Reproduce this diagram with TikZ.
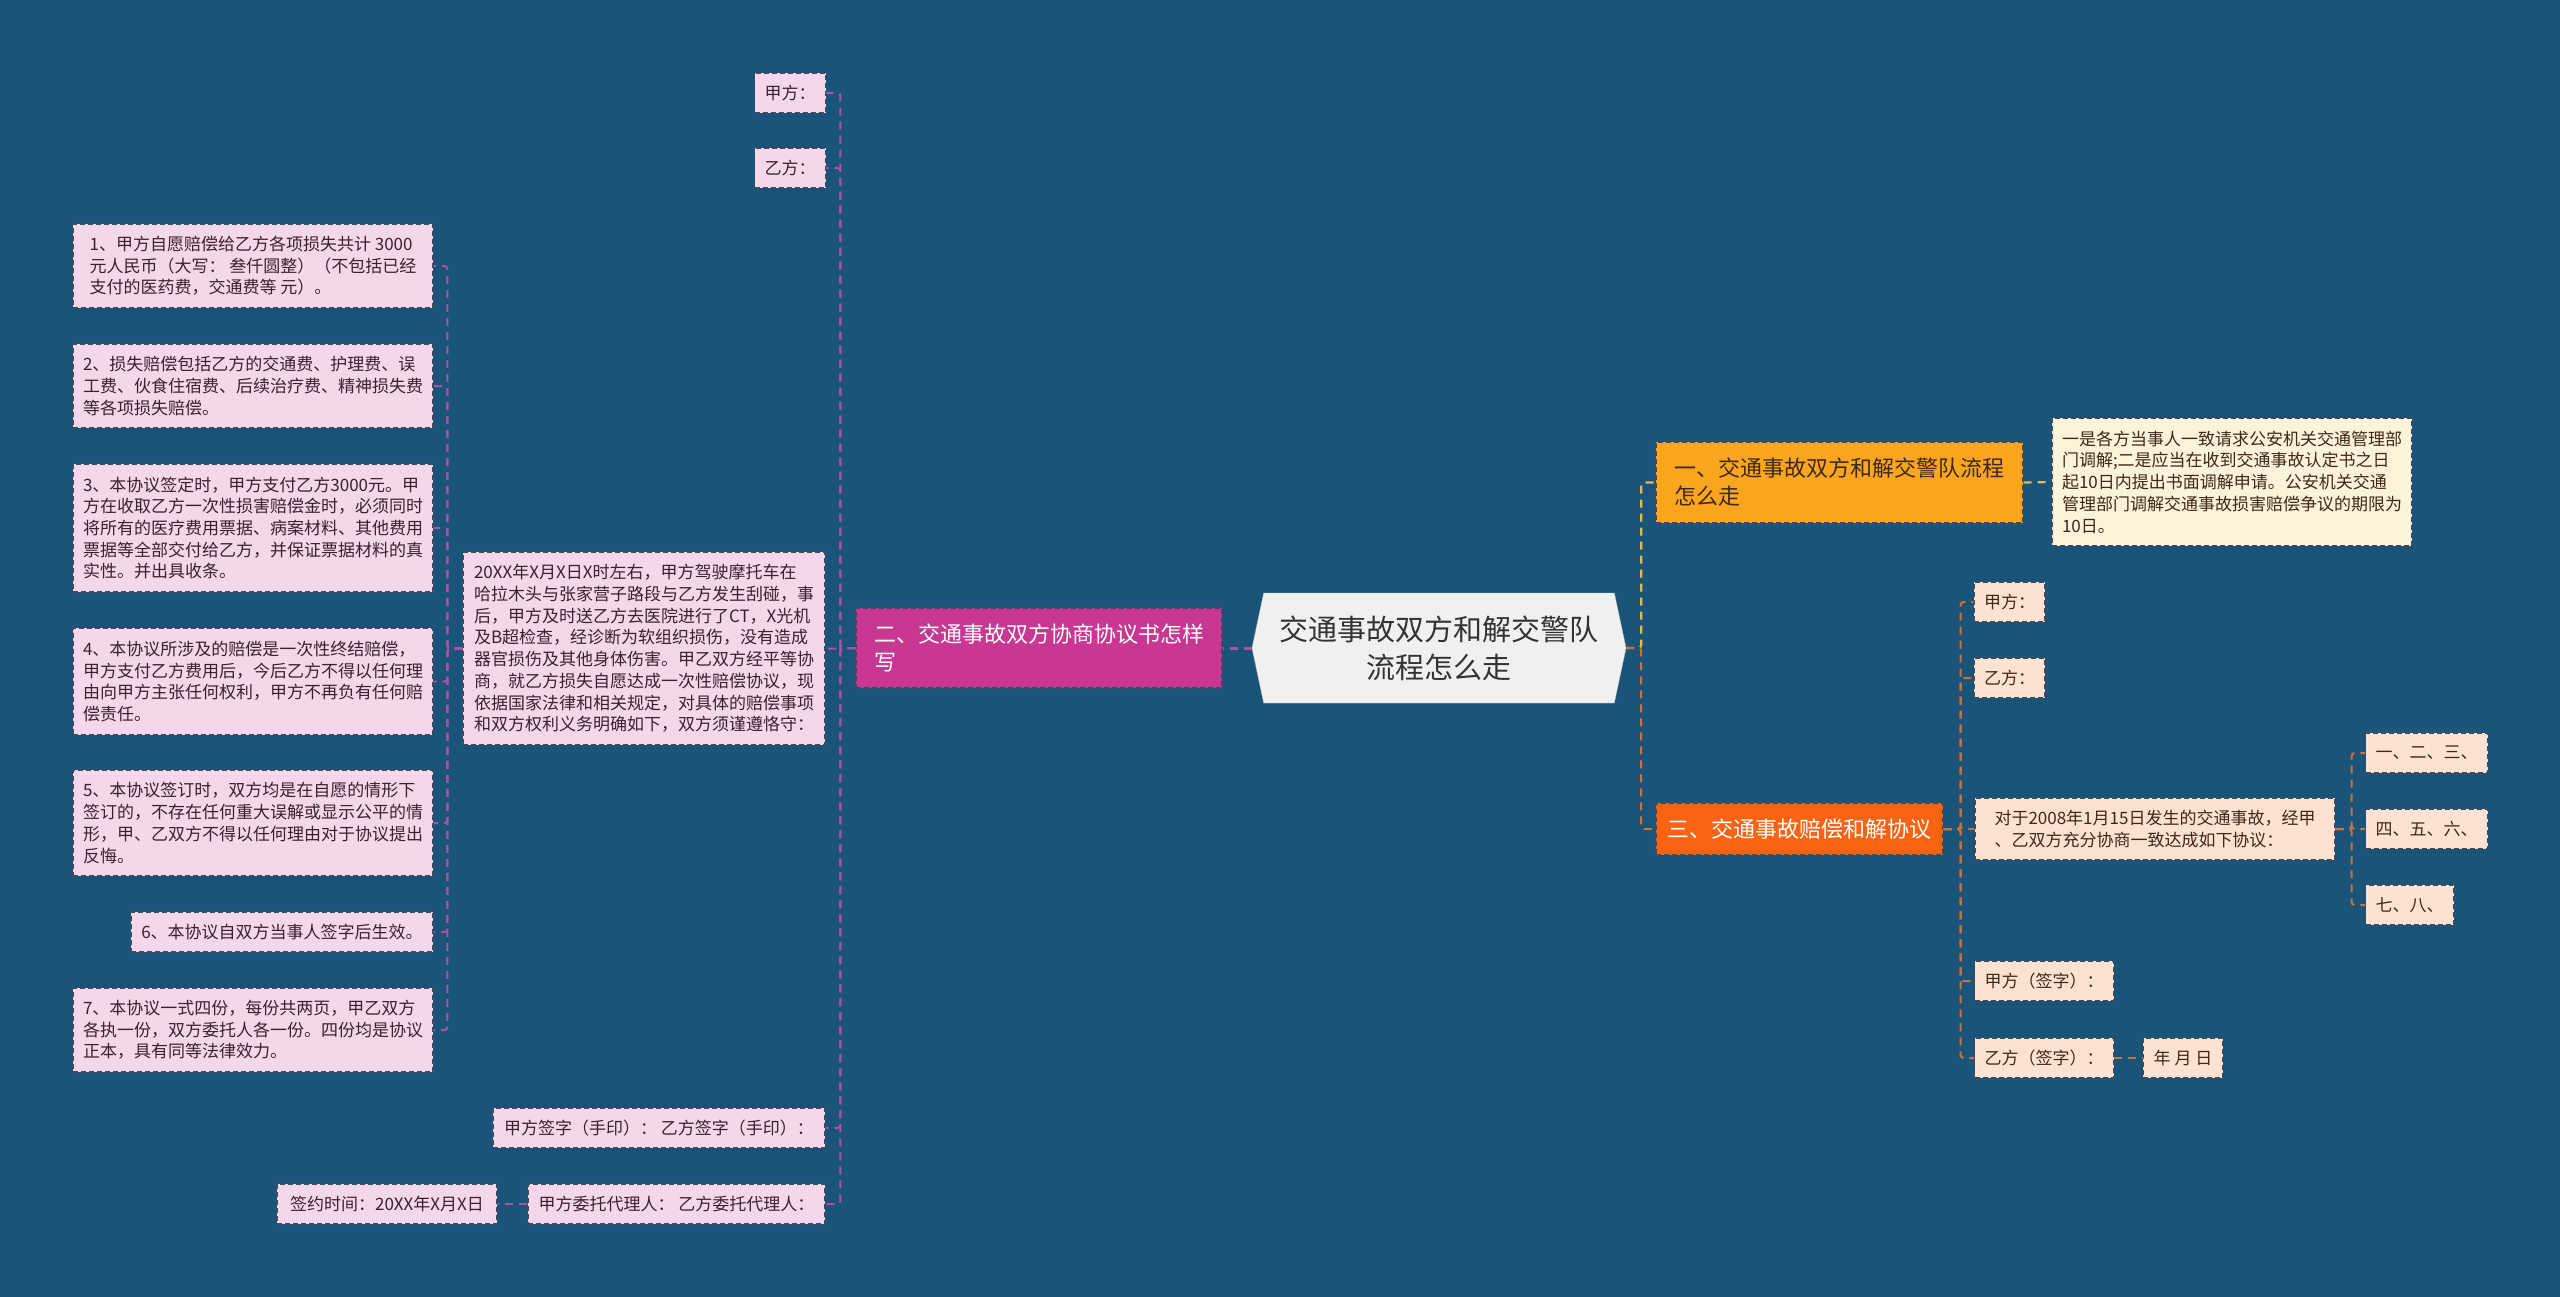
\documentclass[tikz,border=0pt]{standalone}
\usepackage{fontspec}
\setmainfont{Noto Sans CJK SC}
\usetikzlibrary{shapes.symbols}

\definecolor{bgblue}{RGB}{27,84,121}
\definecolor{pinkfill}{RGB}{245,215,235}
\definecolor{peachfill}{RGB}{253,226,210}
\definecolor{creamfill}{RGB}{253,242,218}
\definecolor{rootfill}{RGB}{240,240,240}
\definecolor{magbranch}{RGB}{200,55,145}
\definecolor{orbranch}{RGB}{250,165,30}
\definecolor{redbranch}{RGB}{248,100,20}
\definecolor{edgegrey}{RGB}{60,75,98}
\definecolor{inkleaf}{RGB}{60,32,45}
\definecolor{inkpeach}{RGB}{62,40,28}
\definecolor{lline}{RGB}{172,82,160}
\definecolor{yline}{RGB}{226,186,84}
\definecolor{oline}{RGB}{204,112,62}

\newcommand{\leaffont}{\fontsize{17}{21.7}\selectfont}
\newcommand{\branchfont}{\fontsize{22}{28}\selectfont}
\newcommand{\rootfont}{\fontsize{29}{38}\selectfont}

\begin{document}
\begin{tikzpicture}[x=1pt, y=-1pt,
    box/.style={draw=edgegrey, dash pattern=on 5pt off 3pt, line width=1.2pt, inner xsep=10pt, inner ysep=3pt, align=left},
    leafL/.style={box, fill=pinkfill, text=inkleaf, font=\leaffont},
    leafR/.style={box, fill=peachfill, text=inkpeach, font=\leaffont},
    noteR/.style={box, fill=creamfill, text=inkpeach, font=\leaffont},
    branchM/.style={box, fill=magbranch, text=white, font=\branchfont},
    branchO/.style={box, fill=orbranch, text=inkpeach, font=\branchfont},
    branchR/.style={box, fill=redbranch, text=white, font=\branchfont},
    rootbox/.style={signal, signal to=west and east, signal pointer angle=156, fill=rootfill, draw=rootfill!80!black, text=black!80, font=\rootfont, align=center, inner sep=4pt},
    lconn/.style={draw=lline, dash pattern=on 8pt off 6pt, line width=2pt, rounded corners=3pt},
    yconn/.style={draw=yline, dash pattern=on 8pt off 6pt, line width=2.2pt, rounded corners=3pt},
    oconn/.style={draw=oline, dash pattern=on 8pt off 6pt, line width=2pt, rounded corners=3pt}]

    % ==== BACKGROUND ====
    \fill[bgblue] (0,0) rectangle (2560,1297);

    % ==== ROOT ====
    \node[rootbox, minimum width=374, minimum height=110] (root) at (1439,648) {交通事故双方和解交警队\\流程怎么走};

    % ==== LEFT BRANCH ====
    \node[branchM, minimum width=366, minimum height=80] (b2) at (1039,648) {二、交通事故双方协商协议书怎样\\写};

    \node[leafL, minimum width=70, minimum height=40] (ja) at (790,93) {甲方：};
    \node[leafL, minimum width=70, minimum height=40] (yi) at (790,168) {乙方：};
    \node[leafL, minimum width=362, minimum height=193] (acc) at (644,648.5) {20XX年X月X日X时左右，甲方驾驶摩托车在\\哈拉木头与张家营子路段与乙方发生刮碰，事\\后，甲方及时送乙方去医院进行了CT，X光机\\及B超检查，经诊断为软组织损伤，没有造成\\器官损伤及其他身体伤害。甲乙双方经平等协\\商，就乙方损失自愿达成一次性赔偿协议，现\\依据国家法律和相关规定，对具体的赔偿事项\\和双方权利义务明确如下，双方须谨遵恪守：};
    \node[leafL, minimum width=332, minimum height=40] (sig) at (659,1128) {甲方签字（手印）：~乙方签字（手印）：};
    \node[leafL, minimum width=297, minimum height=40] (agent) at (676.5,1204) {甲方委托代理人：~乙方委托代理人：};
    \node[leafL, minimum width=220, minimum height=40] (date) at (387,1204) {签约时间：20XX年X月X日};

    % ---- agreement items ----
    \node[leafL, minimum width=360, minimum height=84] (t1) at (253,266) {1、甲方自愿赔偿给乙方各项损失共计~3000\\元人民币（大写：~叁仟圆整）（不包括已经\\支付的医药费，交通费等~元）。};
    \node[leafL, minimum width=360, minimum height=84] (t2) at (253,386) {2、损失赔偿包括乙方的交通费、护理费、误\\工费、伙食住宿费、后续治疗费、精神损失费\\等各项损失赔偿。};
    \node[leafL, minimum width=360, minimum height=128] (t3) at (253,528) {3、本协议签定时，甲方支付乙方3000元。甲\\方在收取乙方一次性损害赔偿金时，必须同时\\将所有的医疗费用票据、病案材料、其他费用\\票据等全部交付给乙方，并保证票据材料的真\\实性。并出具收条。};
    \node[leafL, minimum width=360, minimum height=107] (t4) at (253,681.5) {4、本协议所涉及的赔偿是一次性终结赔偿，\\甲方支付乙方费用后，今后乙方不得以任何理\\由向甲方主张任何权利，甲方不再负有任何赔\\偿责任。};
    \node[leafL, minimum width=360, minimum height=106] (t5) at (253,823) {5、本协议签订时，双方均是在自愿的情形下\\签订的，不存在任何重大误解或显示公平的情\\形，甲、乙双方不得以任何理由对于协议提出\\反悔。};
    \node[leafL, minimum width=302, minimum height=40] (t6) at (282,932) {6、本协议自双方当事人签字后生效。};
    \node[leafL, minimum width=360, minimum height=84] (t7) at (253,1030) {7、本协议一式四份，每份共两页，甲乙双方\\各执一份，双方委托人各一份。四份均是协议\\正本，具有同等法律效力。};

    % ==== RIGHT BRANCHES ====
    \node[branchO, minimum width=367, minimum height=81] (b1) at (1839.5,482.5) {一、交通事故双方和解交警队流程\\怎么走};
    \node[noteR, minimum width=359, minimum height=128] (note) at (2232,482) {一是各方当事人一致请求公安机关交通管理部\\门调解;二是应当在收到交通事故认定书之日\\起10日内提出书面调解申请。公安机关交通\\管理部门调解交通事故损害赔偿争议的期限为\\10日。};

    \node[branchR, minimum width=287, minimum height=52] (b3) at (1799.5,829) {三、交通事故赔偿和解协议};
    \node[leafR, minimum width=69, minimum height=40] (rja) at (2009.5,602) {甲方：};
    \node[leafR, minimum width=69, minimum height=40] (ryi) at (2009.5,678) {乙方：};
    \node[leafR, minimum width=360, minimum height=62] (agr) at (2155,829) {对于2008年1月15日发生的交通事故，经甲\\、乙双方充分协商一致达成如下协议：};
    \node[leafR, minimum width=138, minimum height=40] (rsa) at (2044,981) {甲方（签字）：};
    \node[leafR, minimum width=138, minimum height=40] (rsb) at (2044,1058) {乙方（签字）：};
    \node[leafR, minimum width=80, minimum height=40] (ymd) at (2183,1058) {年~月~日};
    \node[leafR, minimum width=121, minimum height=40] (p1) at (2426.5,753) {一、二、三、};
    \node[leafR, minimum width=121, minimum height=40] (p2) at (2426.5,829) {四、五、六、};
    \node[leafR, minimum width=87, minimum height=40] (p3) at (2409.5,905) {七、八、};

    % ==== CONNECTORS ====
    \draw[lconn, line width=3pt] (root.west) -- (b2.east);
    \foreach \n in {ja,yi,acc,sig,agent}
        \draw[lconn] (b2.west) -- ++(-15,0) |- (\n.east);
    \draw[lconn] (agent.west) -- (date.east);
    \foreach \n in {t1,t2,t3,t4,t5,t6,t7}
        \draw[lconn] (acc.west) -- ++(-15,0) |- (\n.east);

    \draw[yconn] (root.east) -- ++(15,0) |- (b1.west);
    \draw[oconn] (root.east) -- ++(15,0) |- (b3.west);
    \draw[yconn] (b1.east) -- (note.west);
    \foreach \n in {rja,ryi,agr,rsa,rsb}
        \draw[oconn] (b3.east) -- ++(17,0) |- (\n.west);
    \draw[oconn] (rsb.east) -- (ymd.west);
    \foreach \n in {p1,p2,p3}
        \draw[oconn] (agr.east) -- ++(16,0) |- (\n.west);
\end{tikzpicture}
\end{document}
